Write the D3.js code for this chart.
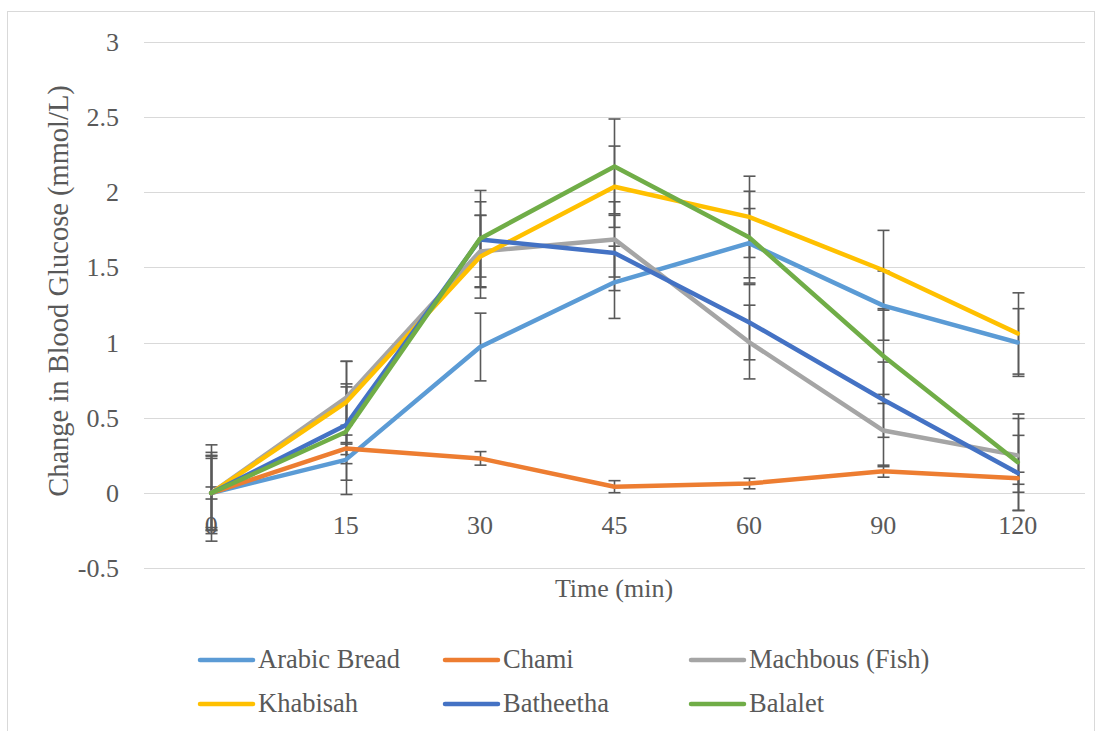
<!DOCTYPE html>
<html><head><meta charset="utf-8">
<script src="https://cdn.jsdelivr.net/npm/d3@7"></script>
<style>
body{margin:0;background:#fff;}
svg text{font-family:"Liberation Serif","Times New Roman",serif;fill:#595959;}
</style></head>
<body><svg id="c" width="1102" height="731"></svg>
<script>
const categories = ["0","15","30","45","60","90","120"];
const seriesNames = ["Arabic Bread","Chami","Machbous (Fish)","Khabisah","Batheetha","Balalet"];
const seriesColors = ["#5B9BD5","#ED7D31","#A5A5A5","#FFC000","#4472C4","#70AD47"];
const arabicBread = [0, 0.22, 0.97, 1.40, 1.66, 1.245, 1.00];
const chami       = [0, 0.295, 0.23, 0.042, 0.063, 0.145, 0.098];
const machbous    = [0, 0.63, 1.605, 1.685, 1.003, 0.415, 0.25];
const khabisah    = [0, 0.60, 1.57, 2.035, 1.835, 1.48, 1.06];
const batheetha   = [0, 0.45, 1.685, 1.595, 1.135, 0.62, 0.133];
const balalet     = [0, 0.405, 1.69, 2.17, 1.70, 0.91, 0.205];
const errArabic    = [0.23, 0.23, 0.225, 0.24, 0.23, 0.23, 0.225];
const errChami     = [0.04, 0.04, 0.045, 0.04, 0.035, 0.04, 0.04];
const errMachbous  = [0.245, 0.245, 0.24, 0.25, 0.245, 0.24, 0.245];
const errKhabisah  = [0.27, 0.275, 0.275, 0.27, 0.27, 0.265, 0.27];
const errBatheetha = [0.25, 0.255, 0.25, 0.25, 0.25, 0.25, 0.25];
const errBalalet   = [0.32, 0.32, 0.32, 0.315, 0.305, 0.315, 0.32];
const yTicks = [-0.5, 0, 0.5, 1, 1.5, 2, 2.5, 3];
const yTickLabels = ["-0.5","0","0.5","1","1.5","2","2.5","3"];

const values = [arabicBread, chami, machbous, khabisah, batheetha, balalet];
const errors = [errArabic, errChami, errMachbous, errKhabisah, errBatheetha, errBalalet];

const svg = d3.select("#c");
const x = d3.scaleBand().domain(categories).range([144, 1085]);
const y = d3.scaleLinear().domain([-0.5, 3]).range([568.25, 41.5]);
const xc = c => x(c) + x.bandwidth()/2;

// outer border
svg.append("rect").attr("x",7.5).attr("y",11.5).attr("width",1087).attr("height",730)
  .attr("fill","none").attr("stroke","#D9D9D9").attr("stroke-width",1);

// gridlines
svg.append("g").selectAll("line").data(yTicks).join("line")
  .attr("x1",144).attr("x2",1085)
  .attr("y1",d=>Math.round(y(d))+0.5).attr("y2",d=>Math.round(y(d))+0.5)
  .attr("stroke","#D9D9D9").attr("stroke-width",1);

// y axis labels
const yAxis = d3.axisLeft(y).tickValues(yTicks).tickFormat((d,i)=>yTickLabels[i]).tickSize(0).tickPadding(0);
const gy = svg.append("g").attr("transform","translate(119,0)").call(yAxis);
gy.select(".domain").remove();
gy.selectAll("text").style("font-size","26px").attr("fill","#595959").attr("dy","0.33em");

// x axis labels
const xAxis = d3.axisBottom(x).tickSize(0).tickPadding(0);
const gx = svg.append("g").attr("transform","translate(0,515)").call(xAxis);
gx.select(".domain").remove();
gx.selectAll("text").style("font-size","26px").attr("fill","#595959").attr("dy","0.72em");

// axis titles
svg.append("text").attr("transform","translate(68,291) rotate(-90)").attr("text-anchor","middle")
  .style("font-size","28.5px").text("Change in Blood Glucose (mmol/L)");
svg.append("text").attr("x",614).attr("y",597).attr("text-anchor","middle")
  .style("font-size","26px").text("Time (min)");

// error bars
const eg = svg.append("g");
values.forEach((vals,si)=>{
  vals.forEach((v,i)=>{
    const e = errors[si][i];
    const cx = Math.round(xc(categories[i]))+0.5;
    const g = eg.append("g").attr("stroke","#595959").attr("stroke-width",1.6);
    g.append("line").attr("x1",cx).attr("x2",cx).attr("y1",y(v+e)).attr("y2",y(v-e));
    g.append("line").attr("x1",cx-6).attr("x2",cx+6).attr("y1",y(v+e)).attr("y2",y(v+e));
    g.append("line").attr("x1",cx-6).attr("x2",cx+6).attr("y1",y(v-e)).attr("y2",y(v-e));
  });
});

// lines
const line = d3.line().x((d,i)=>xc(categories[i])).y(d=>y(d));
values.forEach((vals,si)=>{
  svg.append("path").datum(vals).attr("d",line).attr("fill","none")
    .attr("stroke",seriesColors[si]).attr("stroke-width",4.5)
    .attr("stroke-linejoin","round").attr("stroke-linecap","round");
});

// legend
const legX = [198, 443, 689];
const legY = [660, 704];
seriesNames.forEach((n,i)=>{
  const lx = legX[i%3], ly = legY[Math.floor(i/3)];
  svg.append("line").attr("x1",lx+2).attr("x2",lx+55).attr("y1",ly).attr("y2",ly)
    .attr("stroke",seriesColors[i]).attr("stroke-width",4.5).attr("stroke-linecap","round");
  svg.append("text").attr("x",lx+60).attr("y",ly+8).style("font-size","26.5px").text(n);
});
</script></body></html>
